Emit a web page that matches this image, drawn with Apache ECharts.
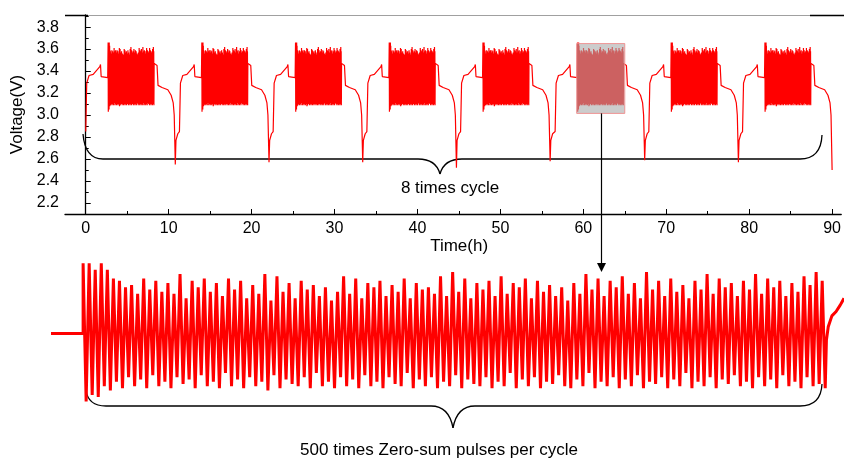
<!DOCTYPE html>
<html>
<head>
<meta charset="utf-8">
<script src="https://cdn.jsdelivr.net/npm/echarts@6/dist/echarts.min.js"></script>
<style>
html, body { margin: 0; padding: 0; background: #fff; }
#chart { width: 844px; height: 461px; }
</style>
</head>
<body>
<div id="chart"></div>
<script>
// cycle start times (h) and the lowest voltage reached at the end of each cycle
const cycleStart = [0, 11.3, 22.6, 33.9, 45.2, 56.6, 67.9, 79.2]
const dipV = [2.55, 2.57, 2.57, 2.52, 2.58, 2.59, 2.57, 2.50]

// shape of one cycle, hours after cycle start
const preT = [0, 0.12, 0.4, 0.9, 1.7, 1.78, 1.86, 2.65]
const preV = [2.85, 3.29, 3.36, 3.37, 3.44, 3.46, 3.35, 3.34]
const pulseFrom = 2.7
const pulseTo = 8.2
const postT = [8.25, 8.6, 8.72, 9.2, 9.9, 10.3, 10.55, 10.67]
const postV = [3.47, 3.45, 3.27, 3.25, 3.23, 3.18, 3.11, 3.0]
const dipT = 10.8
const recT = [10.88, 11.1]
const recV = [2.77, 2.83]

// peak / trough of each pulse in one block (V)
const pulseHigh = [
  3.66, 3.66, 3.63, 3.66, 3.63, 3.59, 3.58, 3.55, 3.56, 3.52, 3.59, 3.54, 3.58, 3.53, 3.57, 3.52, 3.61, 3.50, 3.58, 3.55, 3.59, 3.53,
  3.57, 3.51, 3.59, 3.54, 3.58, 3.50, 3.56, 3.52, 3.61, 3.49, 3.60, 3.53, 3.57, 3.50, 3.58, 3.54, 3.56, 3.51, 3.55, 3.49, 3.53, 3.60,
  3.52, 3.59, 3.50, 3.57, 3.55, 3.58, 3.51, 3.56, 3.53, 3.59, 3.50, 3.57, 3.54, 3.55, 3.52, 3.60, 3.51, 3.62, 3.53, 3.59, 3.50, 3.57,
  3.54, 3.58, 3.51, 3.60, 3.52, 3.57, 3.55, 3.59, 3.50, 3.58, 3.53, 3.56, 3.51, 3.55, 3.49, 3.57, 3.52, 3.61, 3.54, 3.59, 3.51, 3.58,
  3.55, 3.60, 3.52, 3.57, 3.50, 3.62, 3.54, 3.58, 3.51, 3.59, 3.53, 3.56, 3.50, 3.58, 3.54, 3.61, 3.52, 3.59, 3.55, 3.57, 3.51, 3.58,
  3.54, 3.61, 3.52, 3.59, 3.55, 3.58, 3.51, 3.57, 3.53, 3.60, 3.56, 3.62, 3.58
]
const pulseLow = [
  3.03, 3.06, 3.05, 3.10, 3.08, 3.12, 3.09, 3.14, 3.10, 3.13, 3.09, 3.15, 3.10, 3.12, 3.09, 3.14, 3.11, 3.13, 3.09, 3.15, 3.10, 3.12,
  3.09, 3.16, 3.10, 3.13, 3.09, 3.14, 3.10, 3.12, 3.08, 3.15, 3.09, 3.13, 3.11, 3.10, 3.14, 3.09, 3.16, 3.10, 3.12, 3.09, 3.14, 3.10,
  3.13, 3.09, 3.15, 3.10, 3.12, 3.09, 3.14, 3.11, 3.10, 3.16, 3.09, 3.13, 3.10, 3.14, 3.09, 3.12, 3.10, 3.15, 3.09, 3.13, 3.11, 3.10,
  3.14, 3.09, 3.12, 3.10, 3.16, 3.09, 3.13, 3.10, 3.14, 3.09, 3.12, 3.11, 3.15, 3.10, 3.09, 3.13, 3.10, 3.16, 3.09, 3.12, 3.10, 3.14,
  3.09, 3.13, 3.10, 3.15, 3.09, 3.12, 3.11, 3.14, 3.09, 3.13, 3.10, 3.16, 3.09, 3.12, 3.10, 3.14, 3.09, 3.13, 3.11, 3.15, 3.10, 3.12,
  3.09, 3.14, 3.10, 3.13, 3.09, 3.15, 3.10, 3.12, 3.09, 3.14, 3.10, 3.11, 3.09
]

// zoomed panel: rest level before the block and the rise after it (x = pulse number)
const restX = [-5.3, 0]
const restV = [3.34, 3.34]
const tailX = [122.7, 123.0, 123.6, 124.3, 125.0, 125.6]
const tailV = [3.31, 3.37, 3.42, 3.44, 3.47, 3.50]

// highlighted block in the top chart
const zoomWindow = [59.2, 65.0]
const zoomV = [3.015, 3.65]

const xTicks = [0, 10, 20, 30, 40, 50, 60, 70, 80, 90]
const xMinor = [5, 15, 25, 35, 45, 55, 65, 75, 85]
const yTicks = [2.2, 2.4, 2.6, 2.8, 3.0, 3.2, 3.4, 3.6, 3.8]
const yMinor = [2.3, 2.5, 2.7, 2.9, 3.1, 3.3, 3.5, 3.7, 3.9]

const FONT = '"Liberation Sans", Arial, sans-serif'

function buildTop () {
  const pts = []
  const step = (pulseTo - pulseFrom) / (pulseHigh.length - 1)
  cycleStart.forEach((t0, c) => {
    preT.forEach((t, i) => pts.push([t0 + t, preV[i]]))
    pulseHigh.forEach((h, k) => {
      const t = t0 + pulseFrom + k * step
      pts.push([t, h])
      pts.push([t + step / 2, pulseLow[k]])
    })
    postT.forEach((t, i) => pts.push([t0 + t, postV[i]]))
    pts.push([t0 + dipT, dipV[c]])
    if (c < cycleStart.length - 1) {
      recT.forEach((t, i) => pts.push([t0 + t, recV[i]]))
    }
  })
  return pts
}

function buildZoom () {
  const pts = restX.map((x, i) => [x, restV[i]])
  pulseHigh.forEach((h, k) => {
    pts.push([k, h])
    pts.push([k + 0.5, pulseLow[k]])
  })
  tailX.forEach((x, i) => pts.push([x, tailV[i]]))
  return pts
}

// curly brace: left end, horizontal level, cusp, right end
function brace (x0, y0, yh, xc, yc, x1, y1) {
  const s = { stroke: '#000', fill: null, lineWidth: 1.3 }
  return [
    { type: 'bezierCurve', shape: { x1: x0, y1: y0, cpx1: x0 + 2, cpy1: yh, x2: x0 + 20, y2: yh }, style: s },
    { type: 'line', shape: { x1: x0 + 20, y1: yh, x2: xc - 22, y2: yh }, style: s },
    { type: 'bezierCurve', shape: { x1: xc - 22, y1: yh, cpx1: xc - 4, cpy1: yh, x2: xc, y2: yc }, style: s },
    { type: 'bezierCurve', shape: { x1: xc, y1: yc, cpx1: xc + 4, cpy1: yh, x2: xc + 22, y2: yh }, style: s },
    { type: 'line', shape: { x1: xc + 22, y1: yh, x2: x1 - 22, y2: yh }, style: s },
    { type: 'bezierCurve', shape: { x1: x1 - 22, y1: yh, cpx1: x1 - 1, cpy1: yh, x2: x1, y2: y1 }, style: s }
  ]
}

const chart = echarts.init(document.getElementById('chart'))

const labelStyle = { color: '#000', fontSize: 16, fontFamily: FONT }

chart.setOption({
  animation: false,
  grid: [
    { left: 65, right: 0, top: 15, bottom: 247 },
    { left: 51, right: 0, top: 250, bottom: 31 }
  ],
  xAxis: [
    {
      gridIndex: 0, type: 'value', min: -2.5, max: 91.1, position: 'bottom',
      axisLine: { lineStyle: { color: '#000', width: 1.3 } },
      axisTick: { inside: true, length: 5, customValues: xTicks, lineStyle: { color: '#000' } },
      axisLabel: Object.assign({ customValues: xTicks, margin: 7 }, labelStyle),
      splitLine: { show: false },
      name: 'Time(h)', nameLocation: 'middle', nameGap: 10,
      nameTextStyle: { color: '#000', fontSize: 17, fontFamily: FONT, padding: [0, 0, 0, 12] }
    },
    {
      gridIndex: 0, type: 'value', min: -2.5, max: 91.1, position: 'bottom',
      axisLine: { show: false },
      axisTick: { inside: true, length: 3, customValues: xMinor, lineStyle: { color: '#000' } },
      axisLabel: { show: false },
      splitLine: { show: false }
    },
    { gridIndex: 1, type: 'value', min: -5.3, max: 125.6, show: false }
  ],
  yAxis: [
    {
      gridIndex: 0, type: 'value', min: 2.1, max: 3.91, position: 'left',
      axisLine: { show: true, lineStyle: { color: '#000', width: 1.3 } },
      axisTick: { show: true, inside: true, length: 5, customValues: yTicks, lineStyle: { color: '#000' } },
      axisLabel: Object.assign({ customValues: yTicks, margin: 6, formatter: v => v.toFixed(1) }, labelStyle),
      splitLine: { show: false },
      name: 'Voltage(V)', nameLocation: 'middle', nameGap: 38,
      nameTextStyle: { color: '#000', fontSize: 17, fontFamily: FONT }
    },
    {
      gridIndex: 0, type: 'value', min: 2.1, max: 3.91, position: 'left',
      axisLine: { show: false },
      axisTick: { show: true, inside: true, length: 3, customValues: yMinor, lineStyle: { color: '#000' } },
      axisLabel: { show: false },
      splitLine: { show: false }
    },
    { gridIndex: 1, type: 'value', min: 2.9, max: 3.72, show: false }
  ],
  series: [
    {
      type: 'line', xAxisIndex: 0, yAxisIndex: 0, data: buildTop(),
      showSymbol: false, symbol: 'none', z: 2,
      lineStyle: { color: '#ff0000', width: 1.2 }
    },
    {
      type: 'line', xAxisIndex: 2, yAxisIndex: 2, data: buildZoom(),
      showSymbol: false, symbol: 'none',
      lineStyle: { color: '#ff0000', width: 3 }
    }
  ]
})

// annotations: highlight box, frame, braces, arrow and captions
const boxA = chart.convertToPixel({ gridIndex: 0 }, [zoomWindow[0], zoomV[1]])
const boxB = chart.convertToPixel({ gridIndex: 0 }, [zoomWindow[1], zoomV[0]])
const ax = Math.round((boxA[0] + boxB[0]) / 2) + 0.5

chart.setOption({
  graphic: [
    {
      type: 'rect', z: 20,
      shape: { x: boxA[0], y: boxA[1], width: boxB[0] - boxA[0], height: boxB[1] - boxA[1] },
      style: { fill: 'rgba(167,167,167,0.58)', stroke: 'rgba(240,140,140,0.9)', lineWidth: 1 }
    },
    { type: 'line', shape: { x1: 65, y1: 15.5, x2: 844, y2: 15.5 }, style: { stroke: '#a0a0a0', lineWidth: 1.2 } },
    { type: 'line', shape: { x1: 65, y1: 15.5, x2: 88, y2: 15.5 }, style: { stroke: '#000', lineWidth: 1.5 } },
    { type: 'line', shape: { x1: 810, y1: 15.5, x2: 844, y2: 15.5 }, style: { stroke: '#000', lineWidth: 1.5 } },
    ...brace(83, 134, 159, 440, 174, 822, 135),
    ...brace(86, 390, 406, 453, 428, 822, 384),
    { type: 'line', z: 20, shape: { x1: ax, y1: boxB[1], x2: ax, y2: 264 }, style: { stroke: '#000', lineWidth: 1.2 } },
    { type: 'polygon', z: 20, shape: { points: [[ax - 4.5, 263], [ax + 4.5, 263], [ax, 272]] }, style: { fill: '#000' } },
    {
      type: 'text',
      style: { text: '8 times cycle', x: 450, y: 188, textAlign: 'center', textVerticalAlign: 'middle', font: '17px ' + FONT, fill: '#000' }
    },
    {
      type: 'text',
      style: { text: '500 times Zero-sum pulses per cycle', x: 439, y: 450, textAlign: 'center', textVerticalAlign: 'middle', font: '17px ' + FONT, fill: '#000' }
    }
  ]
})
</script>
</body>
</html>
